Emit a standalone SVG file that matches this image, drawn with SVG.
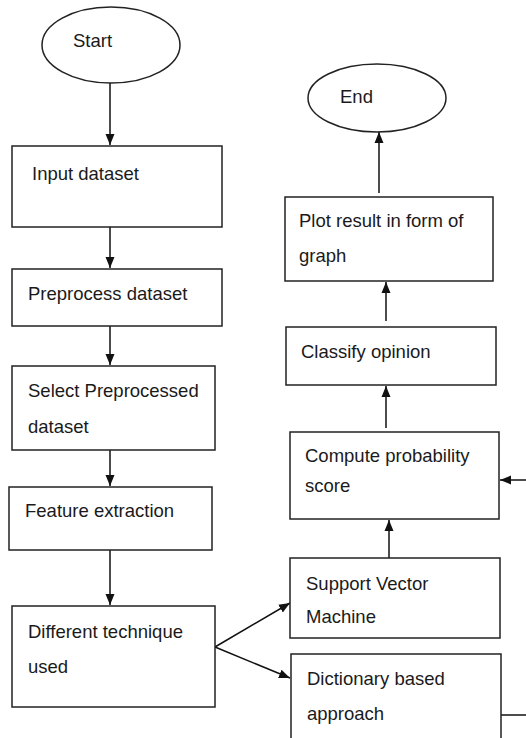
<svg xmlns="http://www.w3.org/2000/svg" width="526" height="738" viewBox="0 0 526 738">
<style>
.box{fill:#fff;stroke:#222;stroke-width:1.5}
.t{font-family:"Liberation Sans",Arial,sans-serif;font-size:18.5px;fill:#1a1a1a}
.c{stroke:#111;stroke-width:1.5;fill:none}
</style>
<defs>
<marker id="ah" markerUnits="userSpaceOnUse" markerWidth="12" markerHeight="12" viewBox="0 0 12 12" refX="11" refY="6" orient="auto">
<path d="M0,1.5 L11,6 L0,10.5 Z" fill="#111"/>
</marker>
</defs>
<rect width="526" height="738" fill="#fff"/>
<g id="connectors">
<line class="c" x1="110" y1="83" x2="110" y2="145" marker-end="url(#ah)"/>
<line class="c" x1="110" y1="227" x2="110" y2="268" marker-end="url(#ah)"/>
<line class="c" x1="110" y1="326" x2="110" y2="365" marker-end="url(#ah)"/>
<line class="c" x1="110" y1="450" x2="110" y2="486" marker-end="url(#ah)"/>
<line class="c" x1="110" y1="550" x2="110" y2="605" marker-end="url(#ah)"/>
<line class="c" x1="215" y1="647" x2="290" y2="603" marker-end="url(#ah)"/>
<line class="c" x1="215" y1="647" x2="290" y2="678" marker-end="url(#ah)"/>
<line class="c" x1="389" y1="558" x2="389" y2="520" marker-end="url(#ah)"/>
<line class="c" x1="386" y1="428" x2="386" y2="386" marker-end="url(#ah)"/>
<line class="c" x1="386" y1="321" x2="386" y2="282" marker-end="url(#ah)"/>
<line class="c" x1="379" y1="193" x2="379" y2="132" marker-end="url(#ah)"/>
<line class="c" x1="501" y1="715" x2="526" y2="715"/>
<line class="c" x1="526" y1="480" x2="500" y2="480" marker-end="url(#ah)"/>
</g>
<g id="start">
<ellipse class="box" cx="111" cy="45" rx="69" ry="38"/>
<text class="t" x="73" y="47">Start</text>
</g>
<g id="input">
<rect class="box" x="12" y="146" width="210" height="81"/>
<text class="t" x="32" y="180">Input dataset</text>
</g>
<g id="preprocess">
<rect class="box" x="12" y="269" width="210" height="57"/>
<text class="t" x="28" y="300">Preprocess dataset</text>
</g>
<g id="select">
<rect class="box" x="12" y="366" width="203" height="84"/>
<text class="t" x="28" y="397">Select Preprocessed</text>
<text class="t" x="28" y="433">dataset</text>
</g>
<g id="feature">
<rect class="box" x="9" y="487" width="203" height="63"/>
<text class="t" x="25" y="517">Feature extraction</text>
</g>
<g id="different">
<rect class="box" x="12" y="606" width="203" height="101"/>
<text class="t" x="28" y="638">Different technique</text>
<text class="t" x="28" y="673">used</text>
</g>
<g id="end">
<ellipse class="box" cx="377" cy="98" rx="69" ry="34"/>
<text class="t" x="340" y="103">End</text>
</g>
<g id="plot">
<rect class="box" x="285" y="197" width="208" height="84"/>
<text class="t" x="299" y="227">Plot result in form of</text>
<text class="t" x="299" y="262">graph</text>
</g>
<g id="classify">
<rect class="box" x="286" y="327" width="210" height="58"/>
<text class="t" x="301" y="358">Classify opinion</text>
</g>
<g id="compute">
<rect class="box" x="290" y="432" width="209" height="87"/>
<text class="t" x="305" y="462">Compute probability</text>
<text class="t" x="305" y="492">score</text>
</g>
<g id="svm">
<rect class="box" x="290" y="558" width="210" height="80"/>
<text class="t" x="306" y="590">Support Vector</text>
<text class="t" x="306" y="623">Machine</text>
</g>
<g id="dictionary">
<rect class="box" x="291" y="654" width="210" height="100"/>
<text class="t" x="307" y="685">Dictionary based</text>
<text class="t" x="307" y="720">approach</text>
</g>
</svg>
